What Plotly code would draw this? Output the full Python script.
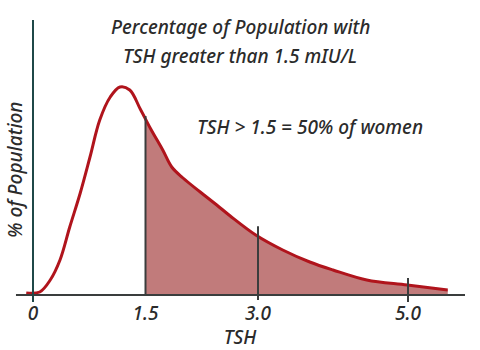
import numpy as np
import plotly.graph_objects as go

# TSH values (x) and % of population (y, arbitrary units)
tsh = [-0.09, 0.09, 0.23, 0.36, 0.49, 0.63, 0.76, 0.89, 1.03, 1.16, 1.29, 1.43,
       1.57, 1.73, 1.85, 2.00, 2.23, 2.45, 2.63, 2.97, 3.33, 3.69, 4.00, 4.45, 4.99, 5.53]
pct = [0.2, 0.3, 1.5, 3.5, 6.8, 10.2, 13.8, 17.5, 19.8, 20.8, 20.5, 18.6,
       16.6, 14.5, 12.8, 11.7, 10.3, 9.0, 7.9, 6.0, 4.5, 3.3, 2.5, 1.5, 1.0, 0.5]
tick_vals = [0, 1.5, 3.0, 5.0]
tick_text = ["0", "1.5", "3.0", "5.0"]
threshold = 1.5

title_lines = ["Percentage of Population with", "TSH greater than 1.5 mIU/L"]
note_text = "TSH > 1.5 = 50% of women"
y_title = "% of Population"
x_title = "TSH"

tsh = np.array(tsh)
pct = np.array(pct)

# shaded part beyond the threshold
mask = tsh > threshold
fx = np.concatenate([[threshold], tsh[mask]])
fy = np.concatenate([[np.interp(threshold, tsh, pct)], pct[mask]])

CURVE = "#b0141c"
FILL = "#c17b7b"
AX = "#3a3d3d"
YAX = "#1f4848"
TXT = "#2b2b2b"
FONT = "Noto Sans"
FS = 19
FW = 500

fnt = dict(family=FONT, size=FS, color=TXT, style="italic", weight=FW)

fig = go.Figure()
fig.add_trace(go.Scatter(x=fx, y=fy, mode="lines", line=dict(width=0, color=FILL, shape="spline"),
                         fill="tozeroy", fillcolor=FILL, hoverinfo="skip"))
fig.add_trace(go.Scatter(x=tsh, y=pct, mode="lines", line=dict(color=CURVE, width=3, shape="spline"),
                         hoverinfo="skip"))

# axis lines
fig.add_shape(type="line", xref="x", yref="y", x0=-0.227, x1=5.76, y0=0, y1=0,
              line=dict(color=AX, width=2))
fig.add_shape(type="line", xref="x", yref="paper", x0=0, x1=0, y0=-0.007, y1=0.933,
              line=dict(color=YAX, width=2))
# marker lines at ticks
fig.add_shape(type="line", xref="x", yref="y", x0=1.5, x1=1.5, y0=0,
              y1=float(np.interp(1.5, tsh, pct)) + 0.3, line=dict(color=AX, width=2))
fig.add_shape(type="line", xref="x", yref="y", x0=3.0, x1=3.0, y0=-0.5,
              y1=float(np.interp(3.0, tsh, pct)) + 1.0, line=dict(color=AX, width=2))
fig.add_shape(type="line", xref="x", yref="paper", x0=5.0, x1=5.0, y0=-0.007,
              y1=(float(np.interp(5.0, tsh, pct)) + 0.7 + 0.5) / 30, line=dict(color=AX, width=2))

for i, line in enumerate(title_lines):
    fig.add_annotation(text=line, xref="paper", yref="paper", x=0.5,
                       y=1.0 - (27 + 29 * i) / 300, yanchor="middle", xanchor="center",
                       showarrow=False, font=fnt)
fig.add_annotation(text=note_text, xref="x", yref="y", x=2.16, y=16.8, xanchor="left",
                   yanchor="middle", showarrow=False, font=fnt)
fig.add_annotation(text=y_title, xref="x", yref="y", x=-0.24, y=12.5, textangle=-90,
                   showarrow=False, font=fnt)

fig.update_layout(
    width=480, height=350, margin=dict(l=0, r=0, t=0, b=50),
    paper_bgcolor="white", plot_bgcolor="white", showlegend=False,
    xaxis=dict(range=[-0.44, 5.96], tickvals=tick_vals, ticktext=tick_text,
               showgrid=False, zeroline=False, showline=False, ticks="", automargin=False,
               tickfont=fnt, title=dict(text=x_title, font=fnt)),
    yaxis=dict(range=[-0.5, 29.5], visible=False, automargin=False),
)
fig.write_html("out.html")
